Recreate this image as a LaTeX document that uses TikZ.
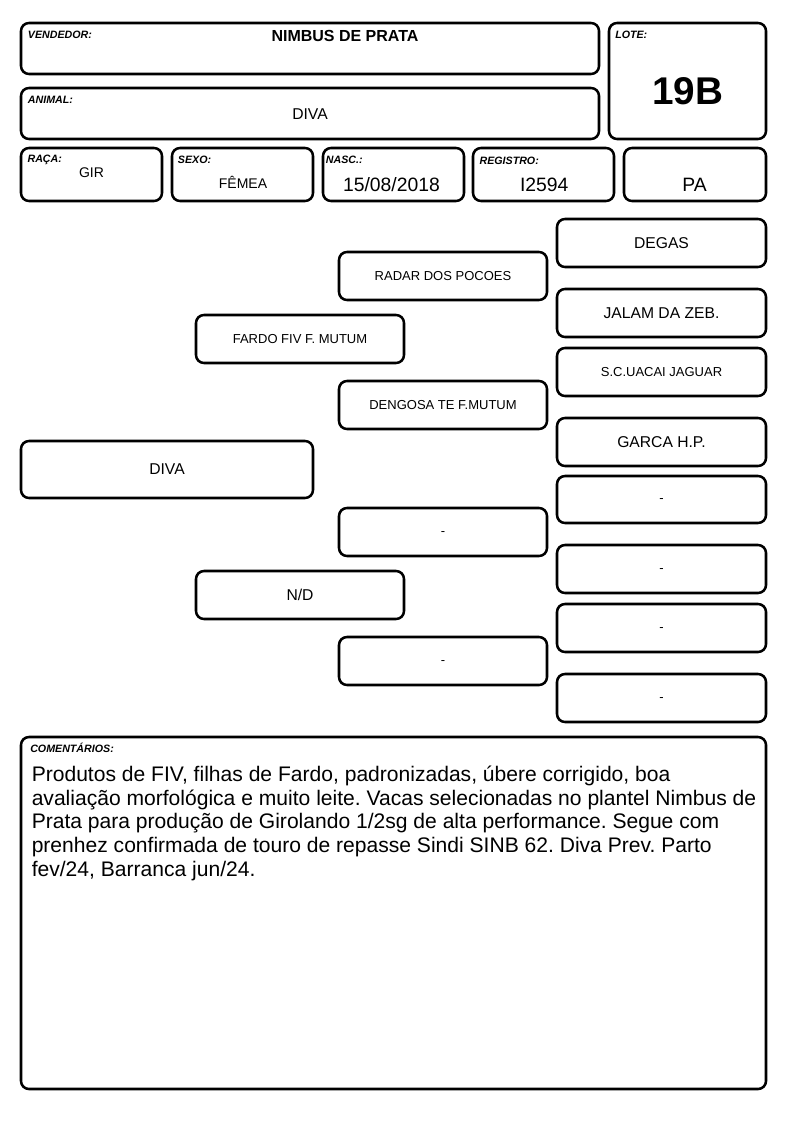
\documentclass[tikz,border=0pt]{standalone}
\usepackage{fontspec}
\setmainfont{Liberation Sans}
\frenchspacing
\tikzset{
  bx/.style={draw=black, line width=1.9pt, rounded corners=6pt, inner sep=0pt, outer sep=0pt, fill=white},
  lbl/.style={anchor=base west, inner sep=0pt, font=\fontsize{8}{9}\selectfont\bfseries\itshape},
  pbig/.style={font=\fontsize{11.75}{13}\selectfont},
  psmall/.style={font=\fontsize{9.75}{11}\selectfont},
  val/.style={anchor=base, inner sep=0pt},
  ctext/.style={anchor=base west, inner sep=0pt, font=\fontsize{15.8}{18}\selectfont},
}
\newcommand\bx[7]{\node[bx, minimum width={(#4-#2)*0.75pt}, minimum height={(#5-#3)*0.75pt}, #6] (#1) at ({(#2+#4)/2},{(#3+#5)/2}) {#7};}
\newcommand\nodash{\raisebox{-2.6pt}[0pt][0pt]{-}}
\begin{document}
\begin{tikzpicture}[x=0.75pt,y=-0.75pt]
\useasboundingbox (0,0) rectangle (794,1123);
\fill[white] (0,0) rectangle (794,1123);
% header boxes
\bx{vend}{21}{23}{599}{74}{}{}
\bx{lote}{609}{23}{766}{139}{}{}
\bx{anim}{21}{88}{599}{139}{}{}
\bx{raca}{21}{148}{162}{201}{}{}
\bx{sexo}{172}{148}{313}{201}{}{}
\bx{nasc}{323}{148}{464}{201}{}{}
\bx{reg}{473}{148}{614}{201}{}{}
\bx{pa}{624}{148}{766}{201}{}{}
% header labels
\node[lbl] (lvend) at (27.7,39) {VENDEDOR:};
\node[lbl] (llote) at (615,38.3) {LOTE:};
\node[lbl] (lanim) at (27.7,103.3) {ANIMAL:};
\node[lbl] (lraca) at (27.3,162.5) {RAÇA:};
\node[lbl] (lsexo) at (177.7,164) {SEXO:};
\node[lbl] (lnasc) at (325.7,164) {NASC.:};
\node[lbl] (lreg) at (479.3,165) {REGISTRO:};
% header values
\node[val, font=\fontsize{12}{14}\selectfont\bfseries] (vvend) at (345,41.7) {NIMBUS DE PRATA};
\node[val, font=\fontsize{29}{32}\selectfont\bfseries] (vlote) at (687.5,105) {19B};
\node[val, font=\fontsize{11.75}{13}\selectfont] (vanim) at (310,119.3) {DIVA};
\node[val, font=\fontsize{10.5}{12}\selectfont] (vraca) at (91.5,177.7) {GIR};
\node[val, font=\fontsize{10.5}{12}\selectfont] (vsexo) at (243,189) {FÊMEA};
\node[val, font=\fontsize{14.5}{16}\selectfont] (vnasc) at (391.5,192) {15/08/2018};
\node[val, font=\fontsize{14.5}{16}\selectfont] (vreg) at (544.3,191.7) {I2594};
\node[val, font=\fontsize{14.5}{16}\selectfont] (vpa) at (694.5,191.7) {PA};
% pedigree
\bx{p1}{557}{219}{766}{267}{pbig}{DEGAS}
\bx{p2}{339}{252}{547}{300}{psmall}{RADAR DOS POCOES}
\bx{p3}{557}{289}{766}{337}{pbig}{JALAM DA ZEB.}
\bx{p4}{196}{315}{404}{363}{psmall}{FARDO FIV F. MUTUM}
\bx{p5}{557}{348}{766}{396}{psmall}{S.C.UACAI JAGUAR}
\bx{p6}{339}{381}{547}{429}{psmall}{DENGOSA TE F.MUTUM}
\bx{p7}{557}{418}{766}{466}{pbig}{GARCA H.P.}
\bx{p8}{21}{441}{313}{498}{pbig}{DIVA}
\bx{p9}{557}{476}{766}{523}{psmall}{\nodash}
\bx{p10}{339}{508}{547}{556}{psmall}{\nodash}
\bx{p11}{557}{545}{766}{593}{psmall}{\nodash}
\bx{p12}{196}{571}{404}{619}{pbig}{N/D}
\bx{p13}{557}{604}{766}{652}{psmall}{\nodash}
\bx{p14}{339}{637}{547}{685}{psmall}{\nodash}
\bx{p15}{557}{674}{766}{722}{psmall}{\nodash}
% comments
\bx{com}{21}{737}{766}{1089}{}{}
\node[lbl] (lcom) at (30,752.7) {COMENTÁRIOS:};
\node[ctext] (c1) at (31.5,781.5) {Produtos de FIV, filhas de Fardo, padronizadas, úbere corrigido, boa};
\node[ctext] (c2) at (31.5,805.2) {avaliação morfológica e muito leite. Vacas selecionadas no plantel Nimbus de};
\node[ctext] (c3) at (31.5,828.9) {Prata para produção de Girolando 1/2sg de alta performance. Segue com};
\node[ctext] (c4) at (31.5,852.6) {prenhez confirmada de touro de repasse Sindi SINB 62. Diva Prev. Parto};
\node[ctext] (c5) at (31.5,876.3) {fev/24, Barranca jun/24.};
\end{tikzpicture}
\end{document}
